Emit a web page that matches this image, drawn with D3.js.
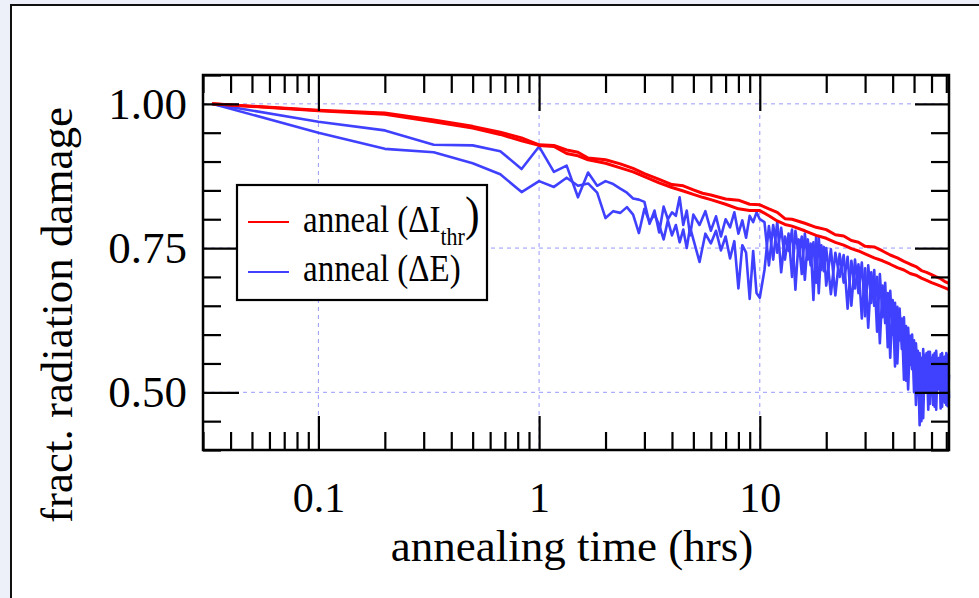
<!DOCTYPE html>
<html>
<head>
<meta charset="utf-8">
<script src="https://cdn.jsdelivr.net/npm/d3@7"></script>
<style>
  body { margin: 0; background: #eef0f9; }
  text { font-family: "Liberation Serif", "Times New Roman", serif; fill: #000; }
</style>
</head>
<body>
<div id="chart"></div>
<script>
// ---- data ----
// red: anneal (dI_thr), two samples
let hoursRed = [0.033, 0.1, 0.2, 0.333, 0.5, 0.667, 0.833, 1.0, 1.167, 1.333, 1.5, 1.667, 2.0, 2.333, 2.667, 3.0, 3.5, 4.0, 4.5, 5.0,
    5.5, 6.0, 7.0, 8.0, 9.0, 10, 11, 12, 13, 14, 16, 18, 20, 22, 24, 26, 28, 30, 33, 36, 39, 42, 45, 48, 51, 54, 57, 60, 63, 66, 69, 72];
let redA = [1.000, 0.989, 0.984, 0.972, 0.961, 0.951, 0.941, 0.929, 0.928, 0.920, 0.916, 0.906, 0.903, 0.896, 0.888, 0.879, 0.869, 0.860, 0.858, 0.851,
    0.845, 0.842, 0.835, 0.833, 0.826, 0.825, 0.818, 0.812, 0.801, 0.800, 0.793, 0.786, 0.782, 0.773, 0.771, 0.763, 0.760, 0.753, 0.752, 0.745,
    0.738, 0.733, 0.727, 0.722, 0.718, 0.711, 0.708, 0.704, 0.700, 0.697, 0.692, 0.689];
let redB = [1.000, 0.988, 0.982, 0.969, 0.958, 0.947, 0.936, 0.928, 0.926, 0.914, 0.910, 0.903, 0.897, 0.889, 0.882, 0.874, 0.863, 0.855, 0.849, 0.843,
    0.838, 0.834, 0.826, 0.818, 0.815, 0.815, 0.806, 0.797, 0.791, 0.788, 0.780, 0.772, 0.767, 0.760, 0.755, 0.749, 0.745, 0.740, 0.733, 0.728,
    0.722, 0.716, 0.712, 0.706, 0.703, 0.698, 0.694, 0.690, 0.687, 0.684, 0.681, 0.678];

// blue: anneal (dE), two samples
let hoursBlue = [0.033, 0.1, 0.2, 0.333, 0.5, 0.667, 0.833, 1.0, 1.167, 1.333, 1.5,
    1.667, 1.833, 2.0, 2.167, 2.333, 2.5, 2.667, 2.833, 3.0, 3.167, 3.333, 3.5, 3.667, 3.833, 4.0, 4.167, 4.333, 4.5, 4.667, 4.833, 5.0,
    5.333, 5.667, 6.0, 6.333, 6.667, 7.0, 7.333, 7.667, 8.0, 8.333, 8.667, 9.0, 9.333, 9.667, 10.0,
    10.5, 11, 11.5, 12, 12.5, 13, 13.5, 14, 14.5, 15, 15.5, 16, 16.5, 17, 17.5, 18, 18.5, 19, 19.5, 20,
    21, 22, 23, 24, 25, 26, 27, 28, 29, 30, 31, 32, 33, 34, 35, 36, 37, 38, 39, 40,
    41, 42, 43, 44, 45, 46, 47, 48, 49, 50, 51, 52, 53, 54, 55, 56, 57, 58, 59, 60,
    61, 62, 63, 64, 65, 66, 67, 68, 69, 70, 71, 72];
let blueA = [1.000, 0.969, 0.954, 0.929, 0.928, 0.918, 0.887, 0.926, 0.882, 0.893, 0.838,
    0.881, 0.858, 0.866, 0.861, 0.853, 0.846, 0.836, 0.834, 0.830, 0.792, 0.815, 0.777, 0.822, 0.800, 0.812, 0.806, 0.838, 0.790, 0.815, 0.772, 0.808,
    0.790, 0.814, 0.780, 0.805, 0.770, 0.800, 0.786, 0.812, 0.775, 0.798, 0.768, 0.806, 0.795, 0.812, 0.800,
    0.795, 0.720, 0.790, 0.742, 0.785, 0.730, 0.775, 0.700, 0.780, 0.738, 0.770, 0.695, 0.765, 0.720, 0.760, 0.690, 0.768, 0.712, 0.752, 0.685,
    0.748, 0.668, 0.740, 0.690, 0.735, 0.650, 0.730, 0.672, 0.725, 0.632, 0.720, 0.655, 0.712, 0.605, 0.705, 0.630, 0.690, 0.578, 0.676, 0.600,
    0.655, 0.550, 0.645, 0.575, 0.630, 0.520, 0.612, 0.548, 0.600, 0.500, 0.585, 0.530, 0.568, 0.450, 0.575, 0.510, 0.568, 0.470, 0.570, 0.505,
    0.565, 0.475, 0.572, 0.520, 0.560, 0.472, 0.568, 0.512, 0.562, 0.478, 0.565, 0.490];
let blueB = [1.000, 0.950, 0.922, 0.916, 0.897, 0.878, 0.847, 0.866, 0.856, 0.872, 0.858,
    0.862, 0.846, 0.802, 0.814, 0.811, 0.821, 0.808, 0.776, 0.818, 0.795, 0.808, 0.790, 0.765, 0.798, 0.772, 0.790, 0.760, 0.782, 0.750, 0.786, 0.765,
    0.726, 0.775, 0.758, 0.780, 0.746, 0.770, 0.732, 0.762, 0.680, 0.755, 0.742, 0.662, 0.745, 0.672, 0.664,
    0.712, 0.788, 0.730, 0.796, 0.708, 0.770, 0.745, 0.782, 0.678, 0.765, 0.705, 0.775, 0.730, 0.758, 0.660, 0.770, 0.672, 0.755, 0.710, 0.750,
    0.670, 0.742, 0.700, 0.738, 0.645, 0.728, 0.680, 0.722, 0.628, 0.715, 0.612, 0.708, 0.650, 0.700, 0.585, 0.685, 0.620, 0.672, 0.560, 0.660,
    0.545, 0.648, 0.590, 0.628, 0.522, 0.615, 0.505, 0.598, 0.540, 0.590, 0.478, 0.572, 0.443, 0.560, 0.455, 0.565, 0.500, 0.570, 0.480, 0.560,
    0.478, 0.568, 0.470, 0.558, 0.505, 0.566, 0.475, 0.560, 0.482, 0.568, 0.476, 0.530];

// ticks
let xMajor = [0.1, 1, 10];
let xTickLabels = ["0.1", "1", "10"];
let xMinor = [0.03, 0.04, 0.05, 0.06, 0.07, 0.08, 0.09, 0.2, 0.3, 0.4, 0.5, 0.6, 0.7, 0.8, 0.9,
    2, 3, 4, 5, 6, 7, 8, 9, 20, 30, 40, 50, 60, 70];
let yMajor = [0.50, 0.75, 1.00];
let yMinor = [0.40, 0.45, 0.55, 0.60, 0.65, 0.70, 0.80, 0.85, 0.90, 0.95, 1.05];

let W = 979, H = 598;
let margin = {top: 75, right: 30, bottom: 148, left: 203};
let width = W - margin.left - margin.right,
    height = H - margin.top - margin.bottom;

let svg = d3.select("#chart")
    .append("svg")
    .attr("width", W)
    .attr("height", H);

// page background and panel
svg.append("rect").attr("width", W).attr("height", H).attr("fill", "#eef0f9");
svg.append("rect")
    .attr("x", 11).attr("y", 5)
    .attr("width", W + 20).attr("height", H + 20)
    .attr("fill", "#fff")
    .attr("stroke", "#111")
    .attr("stroke-width", 2);

let g = svg.append("g")
    .attr("transform", "translate(" + margin.left + "," + margin.top + ")");

let x = d3.scaleLog().domain([0.03, 72]).range([0, width]);
let y = d3.scaleLinear().domain([0.40, 1.05]).range([height, 0]);

// grid lines
g.selectAll(".vgrid")
    .data(xMajor)
    .enter()
    .append("line")
    .attr("x1", d => x(d)).attr("x2", d => x(d))
    .attr("y1", 0).attr("y2", height)
    .attr("stroke", "#9a9aff")
    .attr("stroke-width", 1)
    .attr("stroke-dasharray", "4,4");
g.selectAll(".hgrid")
    .data(yMajor)
    .enter()
    .append("line")
    .attr("x1", 0).attr("x2", width)
    .attr("y1", d => y(d)).attr("y2", d => y(d))
    .attr("stroke", "#9a9aff")
    .attr("stroke-width", 1)
    .attr("stroke-dasharray", "4,4");

// data lines
let line = d3.line()
    .x(d => x(d[0]))
    .y(d => y(d[1]));

let series = [
    {t: hoursBlue, v: blueA, color: "#4040ff", w: 2.6},
    {t: hoursBlue, v: blueB, color: "#4040ff", w: 2.6},
    {t: hoursRed, v: redA, color: "#ff0000", w: 3},
    {t: hoursRed, v: redB, color: "#ff0000", w: 3}
];
g.selectAll(".series")
    .data(series)
    .enter()
    .append("path")
    .attr("d", d => line(d3.zip(d.t, d.v)))
    .attr("fill", "none")
    .attr("stroke", d => d.color)
    .attr("stroke-width", d => d.w)
    .attr("stroke-linejoin", "round");

// ticks on all four sides, pointing in
function ticks(axis, tx, ty) {
    let a = g.append("g")
        .attr("transform", "translate(" + tx + "," + ty + ")")
        .call(axis);
    a.select(".domain").remove();
    a.selectAll(".tick line").attr("stroke", "#000").attr("stroke-width", 2.2);
    a.selectAll("text")
        .attr("font-family", "Liberation Serif, Times New Roman, serif")
        .attr("fill", "#000");
    return a;
}

ticks(d3.axisBottom(x).tickValues(xMinor).tickSize(-18).tickFormat(""), 0, height);
ticks(d3.axisTop(x).tickValues(xMinor).tickSize(-18).tickFormat(""), 0, 0);
ticks(d3.axisTop(x).tickValues(xMajor).tickSize(-36).tickFormat(""), 0, 0);
ticks(d3.axisLeft(y).tickValues(yMinor).tickSize(-18).tickFormat(""), 0, 0);
ticks(d3.axisRight(y).tickValues(yMinor).tickSize(-18).tickFormat(""), width, 0);
ticks(d3.axisRight(y).tickValues(yMajor).tickSize(-34).tickFormat(""), width, 0);

let xAxis = ticks(d3.axisBottom(x)
    .tickValues(xMajor)
    .tickSize(-34)
    .tickPadding(32)
    .tickFormat((d, i) => xTickLabels[i]), 0, height);
xAxis.selectAll("text").attr("font-size", 42);

let yAxis = ticks(d3.axisLeft(y)
    .tickValues(yMajor)
    .tickSize(-36)
    .tickPadding(16)
    .tickFormat(d3.format(".2f")), 0, 0);
yAxis.selectAll("text").attr("font-size", 45);

// frame
g.append("rect")
    .attr("width", width)
    .attr("height", height)
    .attr("fill", "none")
    .attr("stroke", "#000")
    .attr("stroke-width", 2.5);

// axis titles
svg.append("text")
    .attr("x", 572)
    .attr("y", 561)
    .attr("text-anchor", "middle")
    .attr("font-size", 45)
    .text("annealing time (hrs)");

svg.append("text")
    .attr("transform", "translate(72,315) rotate(-90)")
    .attr("text-anchor", "middle")
    .attr("font-size", 45)
    .text("fract. radiation damage");

// legend
let legend = svg.append("g");
legend.append("rect")
    .attr("x", 237).attr("y", 185)
    .attr("width", 250).attr("height", 115)
    .attr("fill", "#fff")
    .attr("stroke", "#000")
    .attr("stroke-width", 2.2);
legend.append("line")
    .attr("x1", 248).attr("x2", 289).attr("y1", 222).attr("y2", 222)
    .attr("stroke", "#ff0000").attr("stroke-width", 2.2);
legend.append("line")
    .attr("x1", 248).attr("x2", 289).attr("y1", 272).attr("y2", 272)
    .attr("stroke", "#4040ff").attr("stroke-width", 2.2);

let t1 = legend.append("text")
    .attr("transform", "translate(303,232) scale(1,1.12)")
    .attr("font-size", 33);
t1.append("tspan").text("anneal (\u0394I");
t1.append("tspan").attr("font-size", 22).attr("dy", 12).text("thr");
t1.append("tspan").attr("font-size", 44).attr("dy", -14).text(")");

legend.append("text")
    .attr("transform", "translate(303,281) scale(1,1.12)")
    .attr("font-size", 33)
    .text("anneal (\u0394E)");
</script>
</body>
</html>
